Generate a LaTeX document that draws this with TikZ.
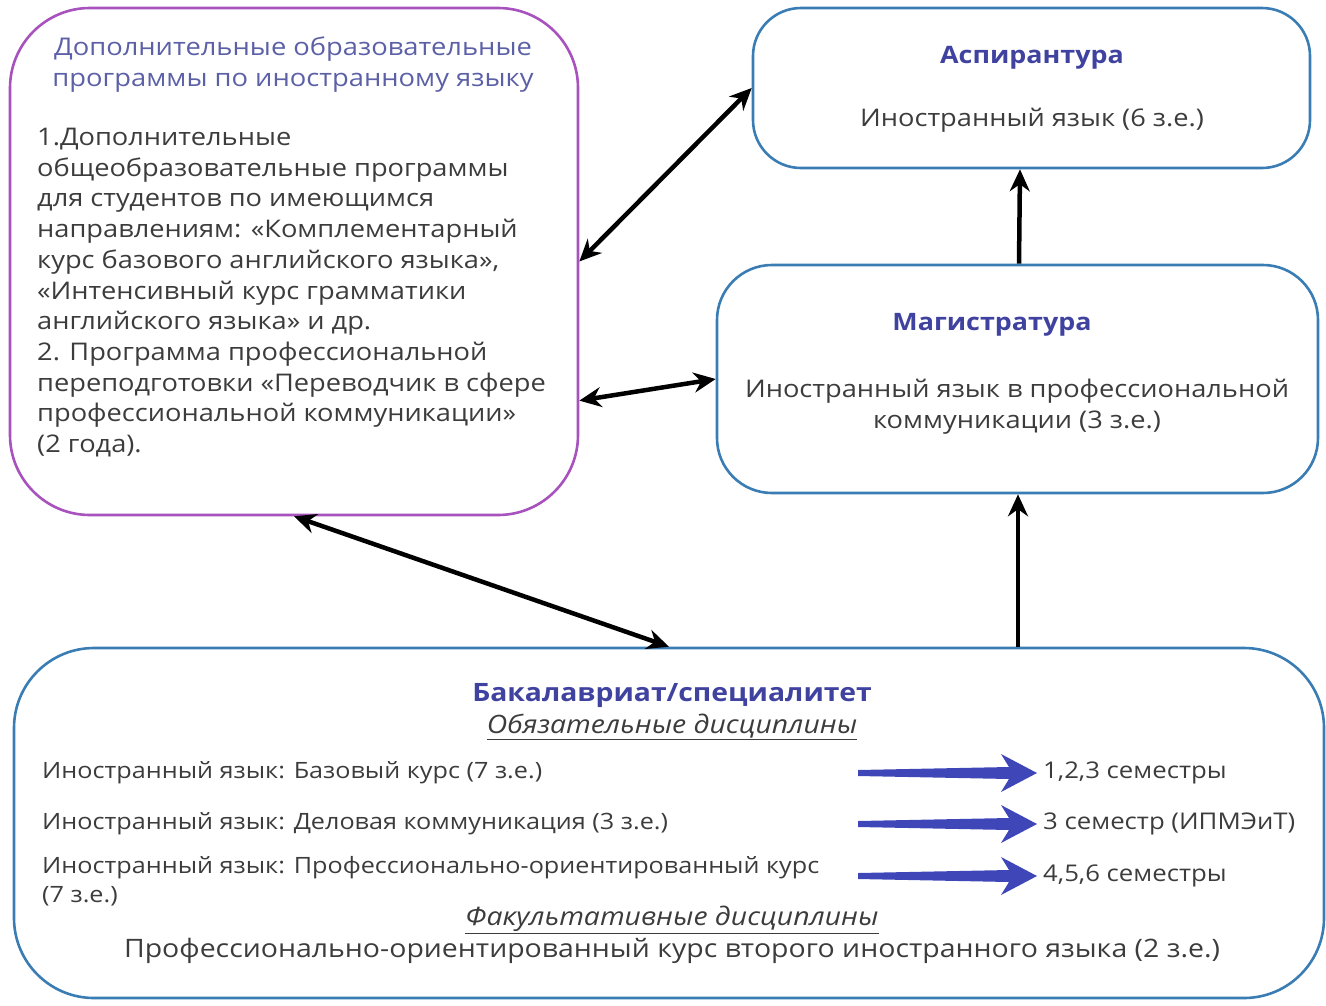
\documentclass[tikz,border=0pt]{standalone}
\usepackage{fontspec}
\setmainfont{Open Sans}[FakeStretch=1.12]
\usepackage{tikz}
\usetikzlibrary{arrows.meta,calc,positioning}
\definecolor{progborder}{RGB}{168,82,190}
\definecolor{levelborder}{RGB}{58,125,180}
\definecolor{titleblue}{RGB}{64,66,160}
\definecolor{progtitle}{RGB}{92,96,166}
\definecolor{bodygray}{RGB}{60,60,60}
\definecolor{semblue}{RGB}{62,70,184}
\newcommand{\semarrow}[1]{%
\fill[semblue] ($(#1)+(-6,0)$) -- ++(-36,-19) -- ++(8,13) -- ++(-151,3) -- ++(0,6)
  -- ++(151,3) -- ++(-8,13) -- cycle;}

\begin{document}
\begin{tikzpicture}[x=1pt,y=-1pt,
  box/.style={draw,line width=2.6pt,rectangle,inner sep=0pt},
  bodytext/.style={text=bodygray,inner sep=0pt,font=\fontsize{24.3}{30.7}\selectfont},
  rowtext/.style={text=bodygray,inner sep=0pt,anchor=west,font=\fontsize{22.5}{29}\selectfont},
  leveltitle/.style={text=titleblue,inner sep=0pt,font=\fontsize{24}{28}\selectfont\bfseries},
  disctitle/.style={text=bodygray,inner sep=0pt,font=\fontsize{25.3}{28}\selectfont\itshape},
  linkarrow/.style={line width=4.5pt,{Stealth[length=22pt,width=20pt]}-{Stealth[length=22pt,width=20pt]}},
  uparrow/.style={line width=4.5pt,-{Stealth[length=22pt,width=20pt]}}]
\useasboundingbox (0,0) rectangle (1326,1005);
% boxes
\node[box,progborder,rounded corners=80pt,minimum width=568pt,minimum height=507pt]
  (prog) at (294,261.5) {};
\node[box,levelborder,rounded corners=48pt,minimum width=557pt,minimum height=160pt]
  (asp) at (1031.5,88) {};
\node[box,levelborder,rounded corners=55pt,minimum width=601pt,minimum height=228pt]
  (mag) at (1017.5,379) {};
\node[box,levelborder,rounded corners=80pt,minimum width=1310pt,minimum height=350pt]
  (bak) at (669,823) {};
% texts
\node[text=progtitle,inner sep=0pt,align=center,font=\fontsize{24.4}{31}\selectfont]
  (progtitle) at (293,65) {Дополнительные образовательные\\программы по иностранному языку};
\node[bodytext,align=left,anchor=north west] (proglist) at (37,128) {1.Дополнительные\\
общеобразовательные программы\\
для студентов по имеющимся\\
направлениям: «Комплементарный\\
курс базового английского языка»,\\
«Интенсивный курс грамматики\\
английского языка» и др.\\
2. Программа профессиональной\\
переподготовки «Переводчик в сфере\\
профессиональной коммуникации»\\
(2 года).};
\node[leveltitle] (asptitle) at (1032,58) {Аспирантура};
\node[bodytext] (asptext) at (1032,120) {Иностранный язык (6 з.е.)};
\node[leveltitle] (magtitle) at (992,325) {Магистратура};
\node[bodytext,align=center] (magtext) at (1017,407) {Иностранный язык в профессиональной\\коммуникации (3 з.е.)};
\node[leveltitle,font=\fontsize{25.3}{28}\selectfont\bfseries] (baktitle) at (672,695) {Бакалавриат/специалитет};
\node[disctitle] (oblig) at (672,727) {\underline{Обязательные дисциплины}};
\node[rowtext] (row1) at (42,773) {Иностранный язык: Базовый курс (7 з.е.)};
\node[rowtext] (row2) at (42,824) {Иностранный язык: Деловая коммуникация (3 з.е.)};
\node[rowtext,align=left] (row3) at (42,881) {Иностранный язык: Профессионально-ориентированный курс\\(7 з.е.)};
\node[rowtext,font=\fontsize{23}{29}\selectfont] (sem1) at (1043,773) {1,2,3 семестры};
\node[rowtext,font=\fontsize{23}{29}\selectfont] (sem2) at (1043,824) {3 семестр (ИПМЭиТ)};
\node[rowtext,font=\fontsize{23}{29}\selectfont] (sem3) at (1043,876) {4,5,6 семестры};
\node[disctitle] (facult) at (672,920) {\underline{Факультативные дисциплины}};
\node[bodytext,font=\fontsize{25.4}{30}\selectfont] (second) at (672,951) {Профессионально-ориентированный курс второго иностранного языка (2 з.е.)};
% connectors
\draw[linkarrow] (prog.east) -- (asp.west);
\draw[linkarrow] ($(prog.south east)!0.227!(prog.north east)$) -- (mag.west);
\draw[linkarrow] (prog.south) -- (bak.north);
\draw[uparrow] (mag.north -| 1019,0) -- (asp.south -| 1020,0);
\draw[uparrow] (bak.north -| 1018,0) -- (mag.south -| 1018,0);
\semarrow{sem1.west}
\semarrow{sem2.west}
\semarrow{sem3.west}
\end{tikzpicture}
\end{document}
